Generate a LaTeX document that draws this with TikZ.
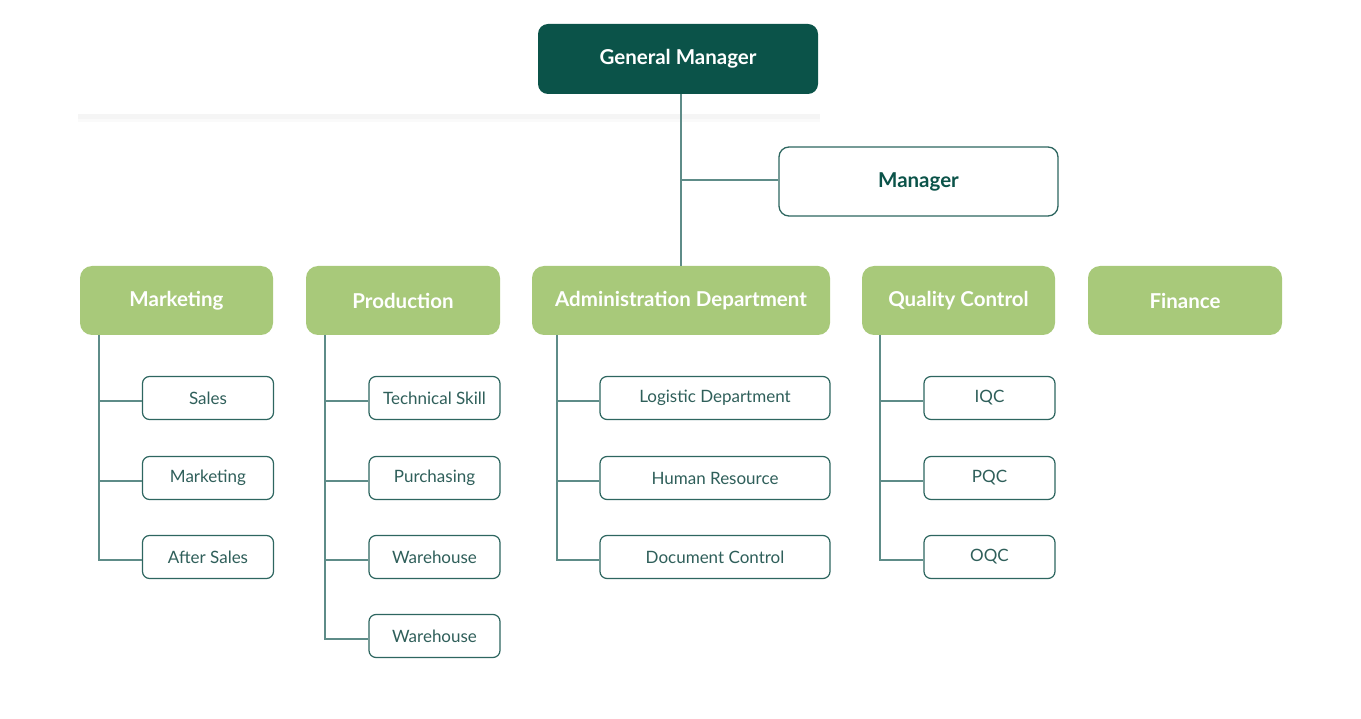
\documentclass[tikz,border=0pt]{standalone}
\usepackage{fontspec}
\setmainfont{Lato}
\definecolor{dteal}{HTML}{0B5349}
\definecolor{lgreen}{HTML}{A8C97A}
\definecolor{lineC}{HTML}{5E8C88}
\definecolor{boxC}{HTML}{2E6660}
\definecolor{txtC}{HTML}{2F5F5A}
\begin{document}
\begin{tikzpicture}[x=1pt,y=-1pt,
  topbox/.style={draw=none,fill=dteal,rounded corners=10pt,minimum width=280pt,minimum height=70pt,inner sep=0pt,text=white,font=\fontsize{20.5}{22}\selectfont\bfseries},
  mgrbox/.style={draw=boxC,line width=1.3pt,fill=white,rounded corners=10pt,minimum width=279pt,minimum height=69pt,inner sep=0pt,text=dteal,font=\fontsize{20.5}{22}\selectfont\bfseries},
  deptbox/.style={draw=none,fill=lgreen,rounded corners=12pt,minimum height=69pt,inner sep=0pt,text=white,font=\fontsize{20.5}{22}\selectfont\bfseries},
  subbox/.style={draw=boxC,line width=1.2pt,fill=white,rounded corners=7pt,minimum height=43pt,inner sep=0pt,text=txtC,font=\fontsize{17}{19}\selectfont},
  conn/.style={draw=lineC,line width=1.4pt},
  br/.style={yshift=-3pt}]
\useasboundingbox (0,0) rectangle (1361,719);
\fill[white] (0,0) rectangle (1361,719);
% faint shade under top
\fill[black!4] (78,114) rectangle (820,119);
\fill[black!2] (78,119) rectangle (820,122);

% top
\node[topbox] (gm) at (678,59) {General Manager};
\node[mgrbox] (mgr) at (918.5,181.5) {Manager};

% departments
\node[deptbox,minimum width=193pt] (mkt) at (176.5,300.5) {Marketing};
\node[deptbox,minimum width=194pt] (prod) at (403,300.5) {Production};
\node[deptbox,minimum width=298pt] (adm) at (681,300.5) {Administration Department};
\node[deptbox,minimum width=193pt] (qc) at (958.5,300.5) {Quality Control};
\node[deptbox,minimum width=194pt] (fin) at (1185,300.5) {Finance};

% top connectors
\coordinate (gmb) at (681,94);
\coordinate (admt) at (681,266);
\draw[conn] (gmb) -- (admt);
\draw[conn] ([yshift=1.5pt]mgr.west) -- ([yshift=1.5pt]mgr.west -| gmb);

% marketing subs
\node[subbox,minimum width=131pt] (s1) at (208,398) {Sales};
\node[subbox,minimum width=131pt] (s2) at (208,478) {Marketing};
\node[subbox,minimum width=131pt] (s3) at (208,557) {After Sales};
\coordinate (mk) at (99,335);
\draw[conn] (mk) |- ([br]s3.west);
\draw[conn] ([br]s1.west) -- ([br]s1.west -| mk);
\draw[conn] ([br]s2.west) -- ([br]s2.west -| mk);

% production subs
\node[subbox,minimum width=131pt] (p1) at (434.5,398) {Technical Skill};
\node[subbox,minimum width=131pt] (p2) at (434.5,478) {Purchasing};
\node[subbox,minimum width=131pt] (p3) at (434.5,557) {Warehouse};
\node[subbox,minimum width=131pt] (p4) at (434.5,636) {Warehouse};
\coordinate (pk) at (325,335);
\draw[conn] (pk) |- ([br]p4.west);
\draw[conn] ([br]p1.west) -- ([br]p1.west -| pk);
\draw[conn] ([br]p2.west) -- ([br]p2.west -| pk);
\draw[conn] ([br]p3.west) -- ([br]p3.west -| pk);

% admin subs
\node[subbox,minimum width=230pt] (a1) at (715,398) {Logistic Department};
\node[subbox,minimum width=230pt] (a2) at (715,478) {Human Resource};
\node[subbox,minimum width=230pt] (a3) at (715,557) {Document Control};
\coordinate (ak) at (557,335);
\draw[conn] (ak) |- ([br]a3.west);
\draw[conn] ([br]a1.west) -- ([br]a1.west -| ak);
\draw[conn] ([br]a2.west) -- ([br]a2.west -| ak);

% QC subs
\node[subbox,minimum width=131pt] (q1) at (989.5,398) {IQC};
\node[subbox,minimum width=131pt] (q2) at (989.5,478) {PQC};
\node[subbox,minimum width=131pt] (q3) at (989.5,557) {OQC};
\coordinate (qk) at (880,335);
\draw[conn] (qk) |- ([br]q3.west);
\draw[conn] ([br]q1.west) -- ([br]q1.west -| qk);
\draw[conn] ([br]q2.west) -- ([br]q2.west -| qk);
\end{tikzpicture}
\end{document}
